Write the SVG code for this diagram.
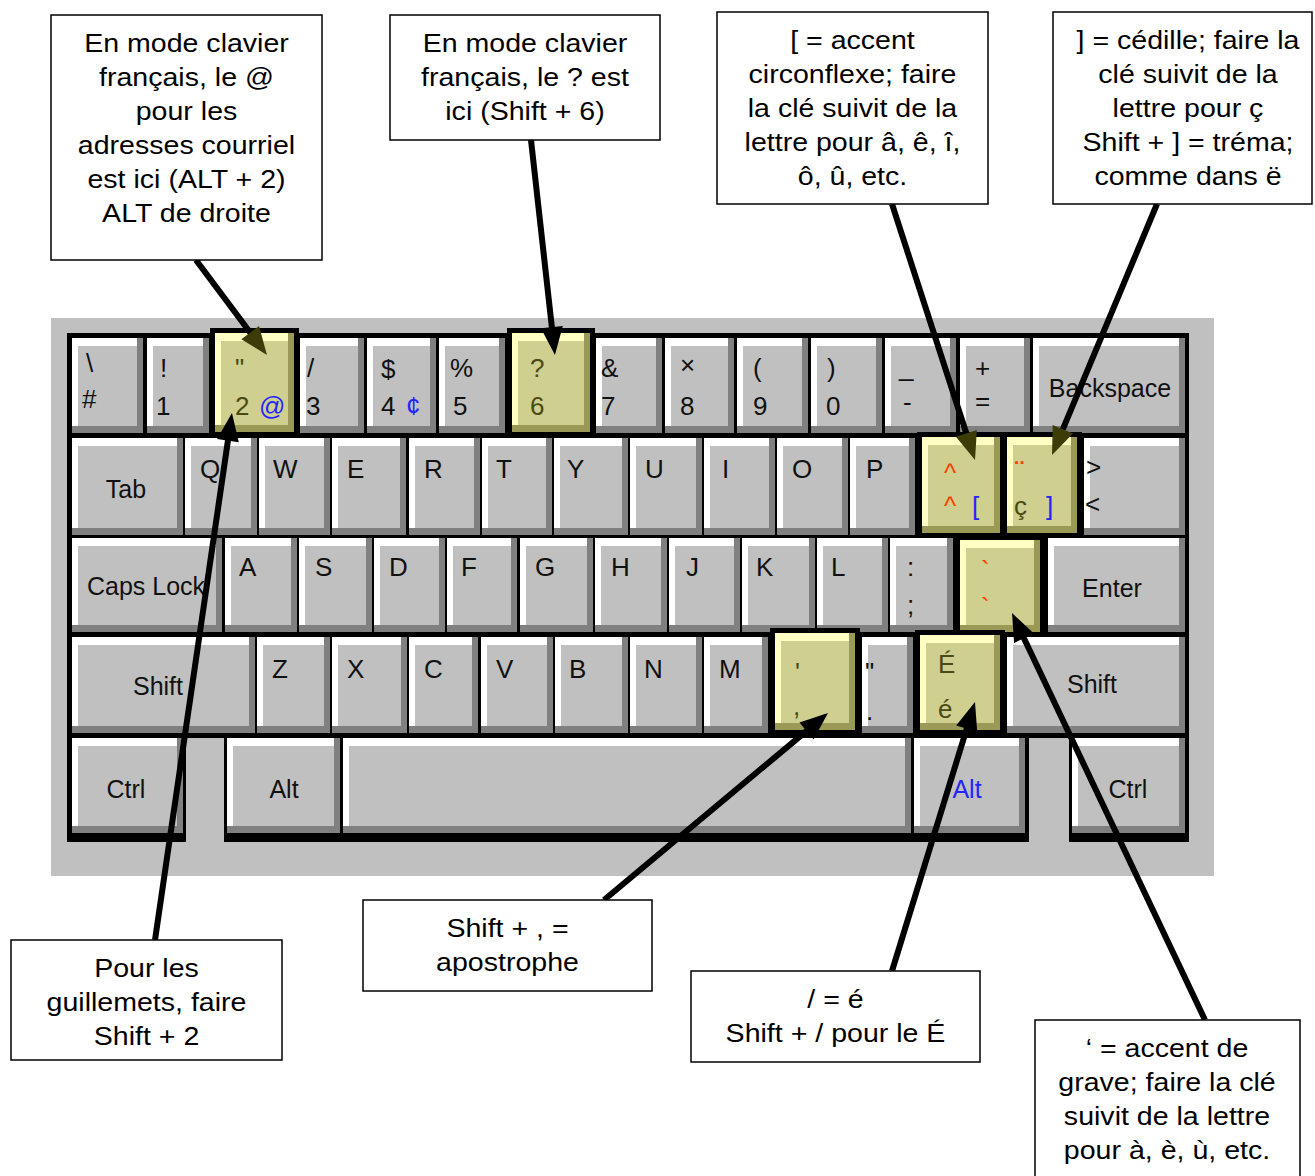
<svg xmlns="http://www.w3.org/2000/svg" width="1315" height="1176" viewBox="0 0 1315 1176">
<style>
.bg{fill:#c0c0c0}
.fr{fill:#000}
.d{fill:#808080}.w{fill:#fff}.f{fill:#c0c0c0}
.hd{fill:#9a9a56}.hw{fill:#ffffc4}.hf{fill:#cfcf8f}
.kl text{font-family:"Liberation Sans",Arial,sans-serif;font-size:26px;fill:#111}
.kl .m{font-size:25px;text-anchor:middle}
.kl .o{fill:#4a4a14}
.kl .b{fill:#2424ff}
.kl .r{fill:#ff4000}
.box rect{fill:#fff;stroke:#000;stroke-width:1.5}
.box text{font-family:"Liberation Sans",Arial,sans-serif;font-size:25.5px;text-anchor:middle;fill:#000}
.cn{stroke:#000;stroke-width:6;fill:none}
</style>
<defs>
<marker id="ah" markerUnits="userSpaceOnUse" markerWidth="30" markerHeight="24" refX="4" refY="11" orient="auto" overflow="visible"><path d="M0,0 L28,11 L0,22 z" fill="#000"/></marker>
<marker id="ah2" markerUnits="userSpaceOnUse" markerWidth="30" markerHeight="24" refX="4" refY="11" orient="auto" overflow="visible"><path d="M0,0 L28,11 L0,22 z" fill="#3c3c08"/></marker>
</defs>
<rect width="1315" height="1176" fill="#fff"/>
<g id="keyboard">
<rect class="bg" x="51" y="318" width="1163" height="558"/>
<rect class="fr" x="67" y="333" width="1122" height="405"/>
<rect class="fr" x="67" y="733" width="119" height="109"/>
<rect class="fr" x="224" y="733" width="805" height="109"/>
<rect class="fr" x="1069" y="733" width="120" height="109"/>
<g id="row1">
<rect class="d" x="72" y="338" width="71" height="95"/><rect class="w" x="72" y="338" width="65" height="88"/><rect class="f" x="78" y="346" width="59" height="80"/>
<rect class="d" x="147" y="338" width="62" height="95"/><rect class="w" x="147" y="338" width="56" height="88"/><rect class="f" x="153" y="346" width="50" height="80"/>
<rect class="d" x="300" y="338" width="64" height="95"/><rect class="w" x="300" y="338" width="58" height="88"/><rect class="f" x="306" y="346" width="52" height="80"/>
<rect class="d" x="367" y="338" width="69" height="95"/><rect class="w" x="367" y="338" width="63" height="88"/><rect class="f" x="373" y="346" width="57" height="80"/>
<rect class="d" x="439" y="338" width="66" height="95"/><rect class="w" x="439" y="338" width="60" height="88"/><rect class="f" x="445" y="346" width="54" height="80"/>
<rect class="d" x="596" y="338" width="66" height="95"/><rect class="w" x="596" y="338" width="60" height="88"/><rect class="f" x="602" y="346" width="54" height="80"/>
<rect class="d" x="665" y="338" width="69" height="95"/><rect class="w" x="665" y="338" width="63" height="88"/><rect class="f" x="671" y="346" width="57" height="80"/>
<rect class="d" x="737" y="338" width="71" height="95"/><rect class="w" x="737" y="338" width="65" height="88"/><rect class="f" x="743" y="346" width="59" height="80"/>
<rect class="d" x="811" y="338" width="71" height="95"/><rect class="w" x="811" y="338" width="65" height="88"/><rect class="f" x="817" y="346" width="59" height="80"/>
<rect class="d" x="885" y="338" width="71" height="95"/><rect class="w" x="885" y="338" width="65" height="88"/><rect class="f" x="891" y="346" width="59" height="80"/>
<rect class="d" x="960" y="338" width="70" height="95"/><rect class="w" x="960" y="338" width="64" height="88"/><rect class="f" x="966" y="346" width="58" height="80"/>
<rect class="d" x="1033" y="338" width="152" height="95"/><rect class="w" x="1033" y="338" width="146" height="88"/><rect class="f" x="1039" y="346" width="140" height="80"/>
</g>
<g id="row2">
<rect class="d" x="72" y="438" width="111" height="97"/><rect class="w" x="72" y="438" width="105" height="90"/><rect class="f" x="78" y="446" width="99" height="82"/>
<rect class="d" x="185" y="438" width="72" height="97"/><rect class="w" x="185" y="438" width="66" height="90"/><rect class="f" x="191" y="446" width="60" height="82"/>
<rect class="d" x="259" y="438" width="71" height="97"/><rect class="w" x="259" y="438" width="65" height="90"/><rect class="f" x="265" y="446" width="59" height="82"/>
<rect class="d" x="332" y="438" width="74" height="97"/><rect class="w" x="332" y="438" width="68" height="90"/><rect class="f" x="338" y="446" width="62" height="82"/>
<rect class="d" x="409" y="438" width="71" height="97"/><rect class="w" x="409" y="438" width="65" height="90"/><rect class="f" x="415" y="446" width="59" height="82"/>
<rect class="d" x="482" y="438" width="70" height="97"/><rect class="w" x="482" y="438" width="64" height="90"/><rect class="f" x="488" y="446" width="58" height="82"/>
<rect class="d" x="554" y="438" width="74" height="97"/><rect class="w" x="554" y="438" width="68" height="90"/><rect class="f" x="560" y="446" width="62" height="82"/>
<rect class="d" x="630" y="438" width="72" height="97"/><rect class="w" x="630" y="438" width="66" height="90"/><rect class="f" x="636" y="446" width="60" height="82"/>
<rect class="d" x="704" y="438" width="71" height="97"/><rect class="w" x="704" y="438" width="65" height="90"/><rect class="f" x="710" y="446" width="59" height="82"/>
<rect class="d" x="777" y="438" width="71" height="97"/><rect class="w" x="777" y="438" width="65" height="90"/><rect class="f" x="783" y="446" width="59" height="82"/>
<rect class="d" x="850" y="438" width="65" height="97"/><rect class="w" x="850" y="438" width="59" height="90"/><rect class="f" x="856" y="446" width="53" height="82"/>
<rect class="d" x="1084" y="438" width="101" height="97"/><rect class="w" x="1084" y="438" width="95" height="90"/><rect class="f" x="1090" y="446" width="89" height="82"/>
</g>
<g id="row3">
<rect class="d" x="72" y="538" width="150" height="94"/><rect class="w" x="72" y="538" width="144" height="87"/><rect class="f" x="78" y="546" width="138" height="79"/>
<rect class="d" x="225" y="538" width="72" height="94"/><rect class="w" x="225" y="538" width="66" height="87"/><rect class="f" x="231" y="546" width="60" height="79"/>
<rect class="d" x="299" y="538" width="73" height="94"/><rect class="w" x="299" y="538" width="67" height="87"/><rect class="f" x="305" y="546" width="61" height="79"/>
<rect class="d" x="374" y="538" width="71" height="94"/><rect class="w" x="374" y="538" width="65" height="87"/><rect class="f" x="380" y="546" width="59" height="79"/>
<rect class="d" x="447" y="538" width="70" height="94"/><rect class="w" x="447" y="538" width="64" height="87"/><rect class="f" x="453" y="546" width="58" height="79"/>
<rect class="d" x="520" y="538" width="73" height="94"/><rect class="w" x="520" y="538" width="67" height="87"/><rect class="f" x="526" y="546" width="61" height="79"/>
<rect class="d" x="595" y="538" width="72" height="94"/><rect class="w" x="595" y="538" width="66" height="87"/><rect class="f" x="601" y="546" width="60" height="79"/>
<rect class="d" x="669" y="538" width="71" height="94"/><rect class="w" x="669" y="538" width="65" height="87"/><rect class="f" x="675" y="546" width="59" height="79"/>
<rect class="d" x="742" y="538" width="73" height="94"/><rect class="w" x="742" y="538" width="67" height="87"/><rect class="f" x="748" y="546" width="61" height="79"/>
<rect class="d" x="817" y="538" width="71" height="94"/><rect class="w" x="817" y="538" width="65" height="87"/><rect class="f" x="823" y="546" width="59" height="79"/>
<rect class="d" x="890" y="538" width="63" height="94"/><rect class="w" x="890" y="538" width="57" height="87"/><rect class="f" x="896" y="546" width="51" height="79"/>
<rect class="d" x="1048" y="538" width="137" height="94"/><rect class="w" x="1048" y="538" width="131" height="87"/><rect class="f" x="1054" y="546" width="125" height="79"/>
</g>
<g id="row4">
<rect class="d" x="72" y="637" width="183" height="96"/><rect class="w" x="72" y="637" width="177" height="89"/><rect class="f" x="78" y="645" width="171" height="81"/>
<rect class="d" x="257" y="637" width="73" height="96"/><rect class="w" x="257" y="637" width="67" height="89"/><rect class="f" x="263" y="645" width="61" height="81"/>
<rect class="d" x="332" y="637" width="75" height="96"/><rect class="w" x="332" y="637" width="69" height="89"/><rect class="f" x="338" y="645" width="63" height="81"/>
<rect class="d" x="409" y="637" width="69" height="96"/><rect class="w" x="409" y="637" width="63" height="89"/><rect class="f" x="415" y="645" width="57" height="81"/>
<rect class="d" x="481" y="637" width="72" height="96"/><rect class="w" x="481" y="637" width="66" height="89"/><rect class="f" x="487" y="645" width="60" height="81"/>
<rect class="d" x="555" y="637" width="73" height="96"/><rect class="w" x="555" y="637" width="67" height="89"/><rect class="f" x="561" y="645" width="61" height="81"/>
<rect class="d" x="630" y="637" width="72" height="96"/><rect class="w" x="630" y="637" width="66" height="89"/><rect class="f" x="636" y="645" width="60" height="81"/>
<rect class="d" x="704" y="637" width="64" height="96"/><rect class="w" x="704" y="637" width="58" height="89"/><rect class="f" x="710" y="645" width="52" height="81"/>
<rect class="d" x="862" y="637" width="51" height="96"/><rect class="w" x="862" y="637" width="45" height="89"/><rect class="f" x="868" y="645" width="39" height="81"/>
<rect class="d" x="1007" y="637" width="178" height="96"/><rect class="w" x="1007" y="637" width="172" height="89"/><rect class="f" x="1013" y="645" width="166" height="81"/>
</g>
<g id="row5">
<rect class="d" x="72" y="738" width="111" height="95"/><rect class="w" x="72" y="738" width="105" height="88"/><rect class="f" x="78" y="746" width="99" height="80"/>
<rect class="d" x="227" y="738" width="113" height="95"/><rect class="w" x="227" y="738" width="107" height="88"/><rect class="f" x="233" y="746" width="101" height="80"/>
<rect class="d" x="343" y="738" width="568" height="95"/><rect class="w" x="343" y="738" width="562" height="88"/><rect class="f" x="349" y="746" width="556" height="80"/>
<rect class="d" x="914" y="738" width="111" height="95"/><rect class="w" x="914" y="738" width="105" height="88"/><rect class="f" x="920" y="746" width="99" height="80"/>
<rect class="d" x="1072" y="738" width="113" height="95"/><rect class="w" x="1072" y="738" width="107" height="88"/><rect class="f" x="1078" y="746" width="101" height="80"/>
</g>
<g id="highlighted">
<g id="key-2"><rect class="fr" x="210" y="328" width="89" height="109"/><rect class="hd" x="215" y="333" width="79" height="99"/><rect class="hw" x="215" y="333" width="73" height="92"/><rect class="hf" x="221" y="341" width="67" height="84"/></g>
<g id="key-6"><rect class="fr" x="507" y="328" width="88" height="109"/><rect class="hd" x="512" y="333" width="78" height="99"/><rect class="hw" x="512" y="333" width="72" height="92"/><rect class="hf" x="518" y="341" width="66" height="84"/></g>
<g id="key-grave"><rect class="fr" x="955" y="535" width="90" height="102"/><rect class="hd" x="960" y="540" width="80" height="92"/><rect class="hw" x="960" y="540" width="74" height="85"/><rect class="hf" x="966" y="548" width="68" height="77"/></g>
<g id="key-lbracket"><rect class="fr" x="917" y="432" width="88" height="106"/><rect class="hd" x="922" y="437" width="78" height="96"/><rect class="hw" x="922" y="437" width="72" height="89"/><rect class="hf" x="928" y="445" width="66" height="81"/></g>
<g id="key-rbracket"><rect class="fr" x="1002" y="432" width="80" height="106"/><rect class="hd" x="1007" y="437" width="70" height="96"/><rect class="hw" x="1007" y="437" width="64" height="89"/><rect class="hf" x="1013" y="445" width="58" height="81"/></g>
<g id="key-comma"><rect class="fr" x="770" y="628" width="90" height="107"/><rect class="hd" x="775" y="633" width="80" height="97"/><rect class="hw" x="775" y="633" width="74" height="90"/><rect class="hf" x="781" y="641" width="68" height="82"/></g>
<g id="key-eacute"><rect class="fr" x="915" y="630" width="90" height="105"/><rect class="hd" x="920" y="635" width="80" height="95"/><rect class="hw" x="920" y="635" width="74" height="88"/><rect class="hf" x="926" y="643" width="68" height="80"/></g>
</g>
<g class="kl" id="labels">
<text x="86" y="372">\</text><text x="82" y="408">#</text>
<text x="160" y="377">!</text><text x="156" y="415">1</text>
<text class="o" x="235" y="377">"</text><text class="o" x="235" y="415">2</text><text class="b" x="259" y="415" font-size="22">@</text>
<text x="307" y="377">/</text><text x="306" y="415">3</text>
<text x="381" y="378">$</text><text x="381" y="415">4</text><text class="b" x="406" y="415">¢</text>
<text x="450" y="377">%</text><text x="453" y="415">5</text>
<text class="o" x="530" y="377">?</text><text class="o" x="530" y="415">6</text>
<text x="601" y="377">&amp;</text><text x="601" y="415">7</text>
<text x="680" y="374" font-size="18">×</text><text x="680" y="415">8</text>
<text x="753" y="377">(</text><text x="753" y="415">9</text>
<text x="827" y="377">)</text><text x="826" y="415">0</text>
<text x="899" y="376">_</text><text x="903" y="411">-</text>
<text x="975" y="377">+</text><text x="975" y="410">=</text>
<text class="m" x="1110" y="397">Backspace</text>
<text class="m" x="126" y="498">Tab</text>
<text x="200" y="478">Q</text><text x="273" y="478">W</text><text x="347" y="478">E</text><text x="424" y="478">R</text><text x="496" y="478">T</text><text x="567" y="478">Y</text><text x="645" y="478">U</text><text x="722" y="478">I</text><text x="792" y="478">O</text><text x="866" y="478">P</text>
<text class="r" x="944" y="482" font-size="32">^</text><text class="r" x="944" y="515" font-size="32">^</text><text class="b" x="972" y="515">[</text>
<text class="r" x="1015" y="479" font-weight="bold">¨</text><text class="o" x="1014" y="515">ç</text><text class="b" x="1046" y="515">]</text>
<text x="1086" y="476">&gt;</text><text x="1085" y="513">&lt;</text>
<text class="m" x="146" y="595">Caps Lock</text>
<text x="239" y="576">A</text><text x="315" y="576">S</text><text x="389" y="576">D</text><text x="461" y="576">F</text><text x="535" y="576">G</text><text x="611" y="576">H</text><text x="686" y="576">J</text><text x="756" y="576">K</text><text x="831" y="576">L</text>
<text x="907" y="576">:</text><text x="907" y="614">;</text>
<text class="r" x="981" y="579">`</text><text class="r" x="981" y="616">`</text>
<text class="m" x="1112" y="597">Enter</text>
<text class="m" x="158" y="695">Shift</text>
<text x="272" y="678">Z</text><text x="347" y="678">X</text><text x="424" y="678">C</text><text x="496" y="678">V</text><text x="569" y="678">B</text><text x="644" y="678">N</text><text x="719" y="678">M</text>
<text class="o" x="795" y="681">'</text><text class="o" x="793" y="715">,</text>
<text x="865" y="681">"</text><text x="866" y="720">.</text>
<text class="o" x="938" y="673">É</text><text class="o" x="938" y="718">é</text>
<text class="m" x="1092" y="693">Shift</text>
<text class="m" x="126" y="798">Ctrl</text>
<text class="m" x="284" y="798">Alt</text>
<text class="m b" x="967" y="798">Alt</text>
<text class="m" x="1128" y="798">Ctrl</text>
</g>
</g>
<g id="connectors">
<line class="cn" x1="196" y1="260" x2="252.6" y2="335.8" marker-end="url(#ah2)"/>
<line class="cn" x1="531" y1="140" x2="552.3" y2="331.1" marker-end="url(#ah)"/>
<line class="cn" x1="892" y1="204" x2="967.6" y2="437.2" marker-end="url(#ah2)"/>
<line class="cn" x1="1157" y1="204" x2="1061.3" y2="432.9" marker-end="url(#ah2)"/>
<line class="cn" x1="155" y1="940" x2="228.5" y2="436.7" marker-end="url(#ah)"/>
<line class="cn" x1="604" y1="900" x2="809.6" y2="728.4" marker-end="url(#ah)"/>
<line class="cn" x1="892" y1="971" x2="967.9" y2="724.9" marker-end="url(#ah)"/>
<line class="cn" x1="1205" y1="1020" x2="1022.3" y2="634.7" marker-end="url(#ah)"/>
</g>
<g id="note-at" class="box"><rect x="51" y="15" width="271" height="245"/>
<g transform="translate(186.5 0) scale(1.12 1)"><text x="0" y="52">En mode clavier</text><text x="0" y="86">français, le @</text><text x="0" y="120">pour les</text><text x="0" y="154">adresses courriel</text><text x="0" y="188">est ici (ALT + 2)</text><text x="0" y="222">ALT de droite</text></g></g>
<g id="note-question" class="box"><rect x="390" y="15" width="270" height="125"/>
<g transform="translate(525 0) scale(1.12 1)"><text x="0" y="52">En mode clavier</text><text x="0" y="86">français, le ? est</text><text x="0" y="120">ici (Shift + 6)</text></g></g>
<g id="note-circonflexe" class="box"><rect x="717" y="12" width="271" height="192"/>
<g transform="translate(852.5 0) scale(1.12 1)"><text x="0" y="49">[ = accent</text><text x="0" y="83">circonflexe; faire</text><text x="0" y="117">la clé suivit de la</text><text x="0" y="151">lettre pour â, ê, î,</text><text x="0" y="185">ô, û, etc.</text></g></g>
<g id="note-cedille" class="box"><rect x="1053" y="12" width="259" height="192"/>
<g transform="translate(1188 0) scale(1.12 1)"><text x="0" y="49">] = cédille; faire la</text><text x="0" y="83">clé suivit de la</text><text x="0" y="117">lettre pour ç</text><text x="0" y="151">Shift + ] = tréma;</text><text x="0" y="185">comme dans ë</text></g></g>
<g id="note-guillemets" class="box"><rect x="11" y="940" width="271" height="120"/>
<g transform="translate(146.5 0) scale(1.12 1)"><text x="0" y="977">Pour les</text><text x="0" y="1011">guillemets, faire</text><text x="0" y="1045">Shift + 2</text></g></g>
<g id="note-apostrophe" class="box"><rect x="363" y="900" width="289" height="91"/>
<g transform="translate(507.5 0) scale(1.12 1)"><text x="0" y="937">Shift + , =</text><text x="0" y="971">apostrophe</text></g></g>
<g id="note-eacute" class="box"><rect x="691" y="971" width="289" height="91"/>
<g transform="translate(835.5 0) scale(1.12 1)"><text x="0" y="1008">/ = é</text><text x="0" y="1042">Shift + / pour le É</text></g></g>
<g id="note-grave" class="box"><rect x="1035" y="1020" width="265" height="170"/>
<g transform="translate(1167 0) scale(1.12 1)"><text x="0" y="1057">‘ = accent de</text><text x="0" y="1091">grave; faire la clé</text><text x="0" y="1125">suivit de la lettre</text><text x="0" y="1159">pour à, è, ù, etc.</text></g></g>
</svg>
